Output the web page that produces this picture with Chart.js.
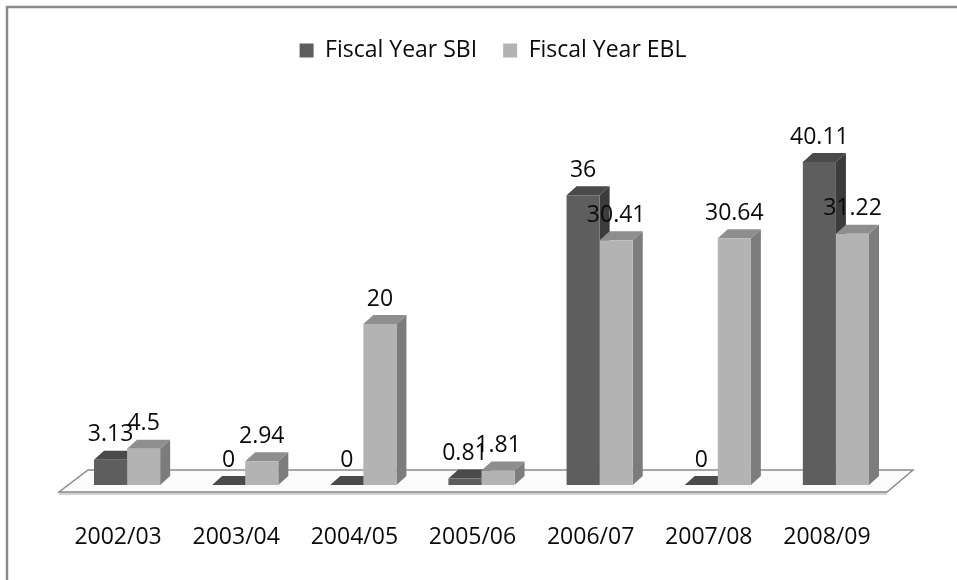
<!DOCTYPE html>
<html>
<head>
<meta charset="utf-8">
<script src="https://cdn.jsdelivr.net/npm/chart.js@4.4.1/dist/chart.umd.min.js"></script>
<style>
html, body { margin: 0; padding: 0; background: #fff; }
canvas { display: block; }
</style>
</head>
<body>
<canvas id="chart" width="957" height="580"></canvas>
<script>
const years = ["2002/03", "2003/04", "2004/05", "2005/06", "2006/07", "2007/08", "2008/09"];
const seriesNames = ["Fiscal Year SBI", "Fiscal Year EBL"];
const sbiValues = [3.13, 0, 0, 0.81, 36, 0, 40.11];
const eblValues = [4.5, 2.94, 20, 1.81, 30.41, 30.64, 31.22];

const FONT = "'Open Sans', 'Noto Sans', sans-serif";
const TEXT = "#0a0a0a";

// front / top / side shades for each series
const shades = [
    { front: "#5e5e5e", top: "#4a4a4a", side: "#3c3c3c" },
    { front: "#b3b3b3", top: "#8e8e8e", side: "#7c7c7c" }
];

const DEPTH_X = 10;
const DEPTH_Y = 9;

// white page with the grey frame on the top and left
const framePlugin = {
    id: "frame",
    beforeDraw(chart) {
        const c = chart.ctx;
        c.save();
        c.fillStyle = "#fff";
        c.fillRect(0, 0, chart.width, chart.height);
        c.strokeStyle = "#8a8a8a";
        c.lineWidth = 2.5;
        c.beginPath();
        c.moveTo(7, chart.height);
        c.lineTo(7, 7);
        c.lineTo(chart.width, 7);
        c.stroke();
        c.restore();
    }
};

// floor plane and the depth faces of every bar
const depthPlugin = {
    id: "depth",
    beforeDatasetsDraw(chart) {
        const c = chart.ctx;
        const area = chart.chartArea;
        const zero = chart.scales.y.getPixelForValue(0);

        c.save();
        const fy = zero + 7;
        const by = zero - 15;
        c.fillStyle = "#d2d2d2";
        c.beginPath();
        c.moveTo(area.left - 9, fy);
        c.lineTo(area.right - 8, fy);
        c.lineTo(area.right - 8, fy + 3);
        c.lineTo(area.left - 9, fy + 3);
        c.closePath();
        c.fill();
        c.fillStyle = "#fbfbfb";
        c.strokeStyle = "#8c8c8c";
        c.lineWidth = 1.5;
        c.beginPath();
        c.moveTo(area.left - 9, fy);
        c.lineTo(area.right - 8, fy);
        c.lineTo(area.right + 18, by);
        c.lineTo(area.left + 20, by);
        c.closePath();
        c.fill();
        c.stroke();

        chart.data.datasets.forEach((ds, i) => {
            const meta = chart.getDatasetMeta(i);
            const s = shades[i];
            meta.data.forEach(bar => {
                const p = bar.getProps(["x", "y", "base", "width"], true);
                const l = p.x - p.width / 2;
                const r = p.x + p.width / 2;
                // side face
                c.fillStyle = s.side;
                c.beginPath();
                c.moveTo(r, p.y);
                c.lineTo(r + DEPTH_X, p.y - DEPTH_Y);
                c.lineTo(r + DEPTH_X, p.base - DEPTH_Y);
                c.lineTo(r, p.base);
                c.closePath();
                c.fill();
                // top face
                c.fillStyle = s.top;
                c.beginPath();
                c.moveTo(l, p.y);
                c.lineTo(r, p.y);
                c.lineTo(r + DEPTH_X, p.y - DEPTH_Y);
                c.lineTo(l + DEPTH_X, p.y - DEPTH_Y);
                c.closePath();
                c.fill();
            });
        });
        c.restore();
    }
};

// value written above each bar
const valueLabels = {
    id: "valueLabels",
    afterDatasetsDraw(chart) {
        const c = chart.ctx;
        c.save();
        c.font = "23px " + FONT;
        c.fillStyle = TEXT;
        c.textAlign = "center";
        c.textBaseline = "middle";
        chart.data.datasets.forEach((ds, i) => {
            chart.getDatasetMeta(i).data.forEach((bar, j) => {
                const p = bar.getProps(["x", "y"], true);
                c.fillText(String(ds.data[j]), p.x, p.y - 25);
            });
        });
        c.restore();
    }
};

const ctx = document.getElementById("chart");

new Chart(ctx, {
    type: "bar",
    data: {
        labels: years,
        datasets: [
            {
                label: seriesNames[0],
                data: sbiValues,
                backgroundColor: shades[0].front
            },
            {
                label: seriesNames[1],
                data: eblValues,
                backgroundColor: shades[1].front
            }
        ]
    },
    options: {
        responsive: false,
        animation: false,
        datasets: {
            bar: {
                categoryPercentage: 0.56,
                barPercentage: 1,
                borderWidth: 0
            }
        },
        layout: {
            padding: { left: 68, right: 39, top: 13, bottom: 28 }
        },
        plugins: {
            legend: {
                position: "top",
                labels: {
                    boxWidth: 14,
                    boxHeight: 14,
                    padding: 26,
                    color: TEXT,
                    font: { family: FONT, size: 23 }
                }
            },
            tooltip: { enabled: false }
        },
        scales: {
            x: {
                grid: { display: false, drawTicks: false },
                border: { display: false },
                ticks: {
                    padding: 39,
                    labelOffset: -9,
                    maxRotation: 0,
                    color: TEXT,
                    font: { family: FONT, size: 23 }
                },
                afterFit(scale) {
                    scale.height = 67;
                }
            },
            y: {
                position: "right",
                min: 0,
                max: 51.3,
                grid: { display: false, drawTicks: false },
                border: { display: false },
                ticks: { display: false },
                afterFit(scale) {
                    scale.width = 23;
                }
            }
        }
    },
    plugins: [framePlugin, depthPlugin, valueLabels]
});
</script>
</body>
</html>
